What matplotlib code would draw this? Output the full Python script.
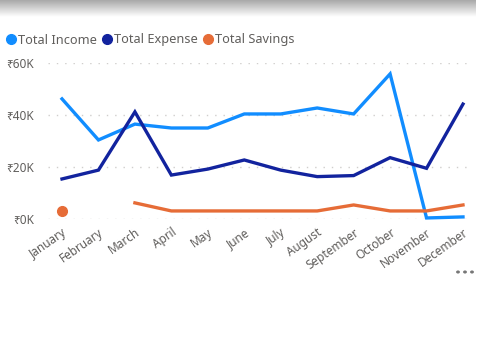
import numpy as np
import matplotlib
matplotlib.use("Agg")
import matplotlib.pyplot as plt
from matplotlib.lines import Line2D

plt.rcParams['font.family'] = ['Noto Sans', 'DejaVu Sans']

months = ["January", "February", "March", "April", "May", "June", "July",
          "August", "September", "October", "November", "December"]
income  = [46.2, 30.4, 36.5, 35.0, 35.0, 40.4, 40.4, 42.7, 40.4, 55.8, 0.4, 0.8]
expense = [15.4, 18.8, 41.2, 16.9, 19.2, 22.7, 18.8, 16.3, 16.7, 23.6, 19.5, 44.2]
savings = [3.1, np.nan, 6.2, 3.1, 3.1, 3.1, 3.1, 3.1, 5.4, 3.1, 3.1, 5.4]
yticks  = [0, 20, 40, 60]
ylabels = ["₹0K", "₹20K", "₹40K", "₹60K"]

C_INC, C_EXP, C_SAV = "#118DFF", "#12239E", "#E66C37"
TXT = "#605E5C"

W, H = 485, 344
fig = plt.figure(figsize=(W/100, H/100), dpi=100)

# top shadow band
sh = fig.add_axes([0, 1-17/H, 476/W, 17/H])
grad = np.linspace(0.66, 1.0, 50).reshape(-1, 1)
sh.imshow(np.repeat(grad, 10, axis=1), cmap="gray", vmin=0, vmax=1,
          aspect="auto", extent=[0, 1, 0, 1])
sh.axis("off")

ax = fig.add_axes([48/W, (H-219)/H, 424/W, 156/H])
x = np.arange(len(months))
lw = 2.4
ax.plot(x, income, color=C_INC, lw=lw, solid_joinstyle="miter", clip_on=False, zorder=3)
ax.plot(x, expense, color=C_EXP, lw=lw, solid_joinstyle="miter", clip_on=False, zorder=3)
ax.plot(x, savings, color=C_SAV, lw=lw, clip_on=False, zorder=3)
# isolated point (neighbour missing) shown as a dot
sv = np.array(savings)
for i in range(len(sv)):
    left = np.isnan(sv[i-1]) if i > 0 else True
    right = np.isnan(sv[i+1]) if i < len(sv)-1 else True
    if not np.isnan(sv[i]) and left and right:
        ax.plot(x[i], sv[i], "o", color=C_SAV, ms=7, zorder=4)

sp = 36.45
ax.set_xlim(-14/sp, 11 + 9/sp)
ax.set_ylim(0, 60)
ax.set_yticks(yticks)
ax.set_yticklabels(ylabels)
ax.set_xticks(x)
ax.set_xticklabels(months, rotation=35, ha="right", rotation_mode="anchor")
ax.tick_params(axis="both", length=0, colors=TXT, labelsize=8.5)
ax.tick_params(axis="y", pad=10)
ax.tick_params(axis="x", pad=5)
for s in ax.spines.values():
    s.set_visible(False)
ax.grid(axis="y", color="#D0CECC", lw=1, linestyle=(0, (1, 5)))
ax.set_axisbelow(True)

handles = [Line2D([0], [0], marker="o", ls="", color=c, ms=7, label=l)
           for c, l in [(C_INC, "Total Income"), (C_EXP, "Total Expense"),
                        (C_SAV, "Total Savings")]]
fig.legend(handles=handles, loc="center left", bbox_to_anchor=(2/W, 1-40/H),
           ncol=3, frameon=False, fontsize=9.2, handletextpad=0.05,
           columnspacing=0.3, handlelength=1.0, borderaxespad=0,
           labelcolor=TXT, borderpad=0.2)

for dx in (458, 465, 472):
    fig.patches.append(plt.Circle((dx/W, 1-272/H), 1.2/W, color="#777777",
                                  transform=fig.transFigure, figure=fig))

fig.savefig("out.png", dpi=100)
